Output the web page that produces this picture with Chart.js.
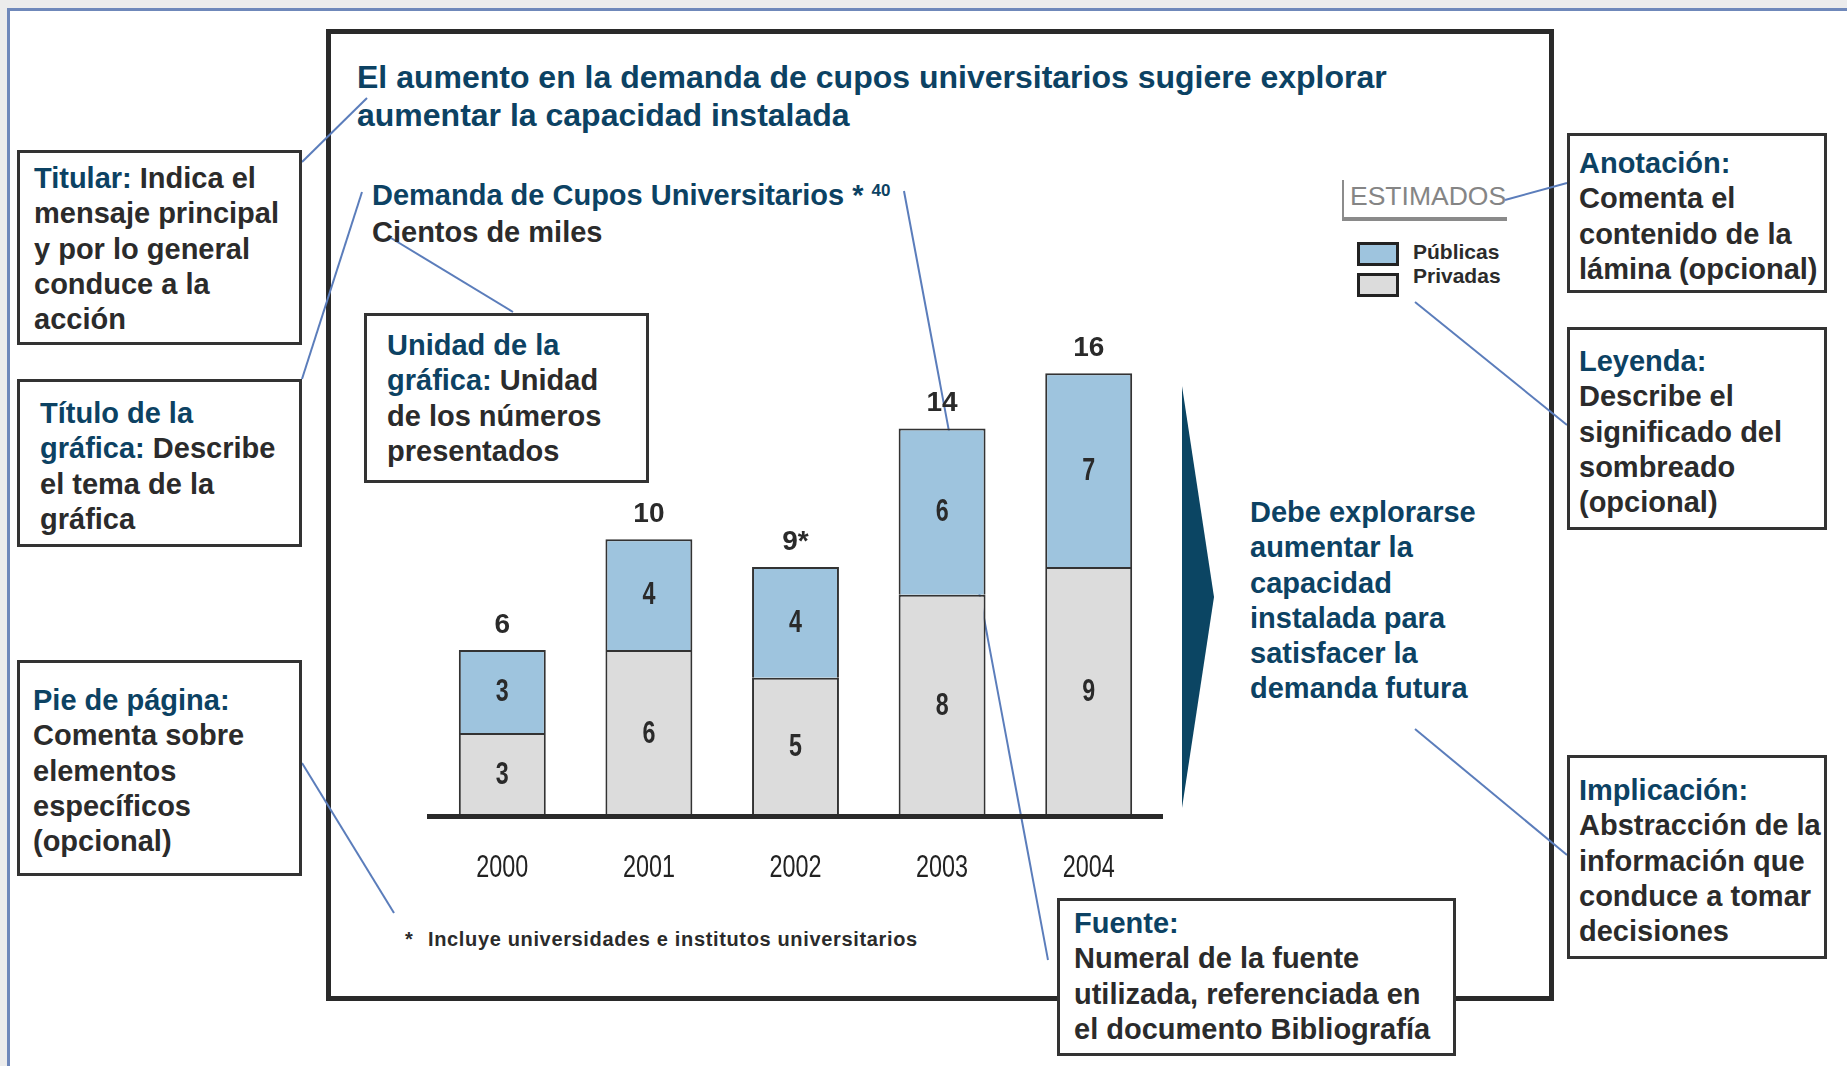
<!DOCTYPE html>
<html lang="es">
<head>
<meta charset="utf-8">
<title>Demanda de Cupos Universitarios</title>
<script src="https://cdn.jsdelivr.net/npm/chart.js@4.4.0/dist/chart.umd.min.js"></script>
<style>
  html, body { margin: 0; padding: 0; }
  body {
    width: 1847px; height: 1066px; position: relative; overflow: hidden;
    background: #ececec;
    font-family: "Liberation Sans", Arial, sans-serif; font-weight: bold; color: #2b2b2b;
  }
  .frame { position: absolute; left: 7px; top: 8px; width: 1900px; height: 1100px;
           border: 3px solid #6f88ba; background: #fff; z-index: 0; }
  .main { position: absolute; left: 326px; top: 29px; width: 1228px; height: 972px;
          box-sizing: border-box; border: 5px solid #2a2a2a; z-index: 1; }
  svg.lines { position: absolute; left: 0; top: 0; z-index: 2; }
  #chartWrap { position: absolute; left: 380px; top: 250px; width: 840px; height: 650px; z-index: 3; }
  .box { position: absolute; box-sizing: border-box; border: 3px solid #333; background: #fff; z-index: 4; }
  .txt { position: absolute; white-space: nowrap; font-size: 29px; line-height: 35.3px; z-index: 5; }
  .teal { color: #0c4263; }
  .title { font-size: 32px; line-height: 38px; }
  .sub { line-height: 33px; }
  .sup { font-size: 17px; position: relative; top: -9px; }
  .foot { font-size: 20px; line-height: 24px; letter-spacing: 0.65px; }
  .estim { font-size: 26.5px; line-height: 30px; font-weight: normal; color: #858585; }
  .bracket { position: absolute; left: 1342px; top: 180px; width: 163px; height: 37px;
             border-left: 2px solid #8c8c8c; border-bottom: 4px solid #8a8a8a; z-index: 4; }
  .lg { position: absolute; left: 1357px; width: 42px; height: 24px; box-sizing: border-box;
        border: 3px solid #222; z-index: 4; }
  .lgt { font-size: 21px; line-height: 24px; }
</style>
</head>
<body>
<div class="frame"></div>
<div class="main"></div>

<svg class="lines" width="1847" height="1066">
  <g stroke="#5b7dbb" stroke-width="2" fill="none">
    <line x1="302" y1="162" x2="367" y2="98"/>
    <line x1="302" y1="379" x2="362" y2="192"/>
    <line x1="391" y1="238" x2="513" y2="312"/>
    <line x1="904" y1="191" x2="1048" y2="960"/>
    <line x1="302" y1="763" x2="394" y2="913"/>
    <line x1="1505" y1="200" x2="1567" y2="183"/>
    <line x1="1415" y1="302" x2="1567" y2="425"/>
    <line x1="1415" y1="729" x2="1567" y2="855"/>
  </g>
  <polygon points="1182,386 1214,597 1182,808" fill="#0b4563"/>
</svg>

<div id="chartWrap"><canvas id="myChart" width="840" height="650"></canvas></div>

<!-- titulo y subtitulo -->
<div class="txt title teal" style="left:357px; top:58px;">El aumento en la demanda de cupos universitarios sugiere explorar<br>aumentar la capacidad instalada</div>
<div class="txt sub" style="left:372px; top:179px;"><span class="teal">Demanda de Cupos Universitarios * <span class="sup">40</span></span><br>Cientos de miles</div>

<!-- estimados y leyenda -->
<div class="bracket"></div>
<div class="txt estim" style="left:1350px; top:181px;">ESTIMADOS</div>
<div class="lg" style="top:242px; background:#9ec4de;"></div>
<div class="lg" style="top:273px; background:#dcdcdc;"></div>
<div class="txt lgt" style="left:1413px; top:240px;">Públicas</div>
<div class="txt lgt" style="left:1413px; top:264px;">Privadas</div>

<!-- implicacion -->
<div class="txt teal" style="left:1250px; top:495px;">Debe explorarse<br>aumentar la<br>capacidad<br>instalada para<br>satisfacer la<br>demanda futura</div>

<!-- nota al pie -->
<div class="txt foot" style="left:405px; top:927px;">*</div>
<div class="txt foot" style="left:428px; top:927px;">Incluye universidades e institutos universitarios</div>

<!-- cajas de anotacion -->
<div class="box" style="left:17px; top:150px; width:285px; height:195px;"></div>
<div class="txt" style="left:34px; top:161px;"><span class="teal">Titular:</span> Indica el<br>mensaje principal<br>y por lo general<br>conduce a la<br>acción</div>

<div class="box" style="left:17px; top:379px; width:285px; height:168px;"></div>
<div class="txt" style="left:40px; top:396px;"><span class="teal">Título de la<br>gráfica:</span> Describe<br>el tema de la<br>gráfica</div>

<div class="box" style="left:17px; top:660px; width:285px; height:216px;"></div>
<div class="txt" style="left:33px; top:683px;"><span class="teal">Pie de página:</span><br>Comenta sobre<br>elementos<br>específicos<br>(opcional)</div>

<div class="box" style="left:364px; top:313px; width:285px; height:170px;"></div>
<div class="txt" style="left:387px; top:328px;"><span class="teal">Unidad de la<br>gráfica:</span> Unidad<br>de los números<br>presentados</div>

<div class="box" style="left:1567px; top:133px; width:260px; height:160px;"></div>
<div class="txt" style="left:1579px; top:146px;"><span class="teal">Anotación:</span><br>Comenta el<br>contenido de la<br>lámina (opcional)</div>

<div class="box" style="left:1567px; top:327px; width:260px; height:203px;"></div>
<div class="txt" style="left:1579px; top:344px;"><span class="teal">Leyenda:</span><br>Describe el<br>significado del<br>sombreado<br>(opcional)</div>

<div class="box" style="left:1567px; top:755px; width:260px; height:204px;"></div>
<div class="txt" style="left:1579px; top:773px;"><span class="teal">Implicación:</span><br>Abstracción de la<br>información que<br>conduce a tomar<br>decisiones</div>

<div class="box" style="left:1057px; top:898px; width:399px; height:158px;"></div>
<div class="txt" style="left:1074px; top:906px;"><span class="teal">Fuente:</span><br>Numeral de la fuente<br>utilizada, referenciada en<br>el documento Bibliografía</div>

<script>
// datos (cientos de miles)
const years = ['2000', '2001', '2002', '2003', '2004'];
const privadas = [3, 6, 5, 8, 9];
const publicas = [3, 4, 4, 6, 7];
const totalLabels = ['6', '10', '9*', '14', '16'];

const sans = '"Liberation Sans", Arial, sans-serif';

// texto angosto (la fuente original es condensada)
function condensed(ctx, text, x, y, sx) {
  ctx.save();
  ctx.translate(x, y);
  ctx.scale(sx, 1);
  ctx.fillText(text, 0, 0);
  ctx.restore();
}

// numeros dentro de las barras, totales arriba y años abajo
const valueLabels = {
  id: 'valueLabels',
  afterDatasetsDraw(chart) {
    const ctx = chart.ctx;
    ctx.save();
    ctx.textAlign = 'center';
    ctx.textBaseline = 'middle';
    ctx.fillStyle = '#2a2a2a';
    ctx.font = 'bold 31px ' + sans;
    chart.data.datasets.forEach((ds, i) => {
      chart.getDatasetMeta(i).data.forEach((bar, j) => {
        condensed(ctx, String(ds.data[j]), bar.x, (bar.y + bar.base) / 2 + 1, 0.75);
      });
    });
    const last = chart.getDatasetMeta(chart.data.datasets.length - 1).data;
    ctx.font = 'bold 28px ' + sans;
    last.forEach((bar, j) => {
      ctx.fillText(totalLabels[j], bar.x, bar.y - 25);
    });
    // etiquetas del eje x
    const xs = chart.scales.x;
    ctx.font = '32px ' + sans;
    ctx.fillStyle = '#222222';
    chart.data.labels.forEach((lab, i) => {
      condensed(ctx, lab, xs.getPixelForTick(i), xs.top + 52, 0.73);
    });
    ctx.restore();
  }
};

const data = {
  labels: years,
  datasets: [
    {
      label: 'Privadas',
      data: privadas,
      backgroundColor: '#dcdcdc',
      borderColor: '#333333',
      borderWidth: 2
    },
    {
      label: 'Públicas',
      data: publicas,
      backgroundColor: '#9ec4de',
      borderColor: '#333333',
      borderWidth: 2
    }
  ]
};

const config = {
  type: 'bar',
  data: data,
  options: {
    responsive: false,
    devicePixelRatio: 1,
    animation: false,
    layout: { padding: { left: 49, right: 58, top: 12.6, bottom: 0 } },
    datasets: { bar: { categoryPercentage: 1, barPercentage: 0.593 } },
    plugins: { legend: { display: false }, tooltip: { enabled: false } },
    scales: {
      x: {
        stacked: true,
        grid: { display: false },
        border: { display: true, width: 5, color: '#2a2a2a', z: 1 },
        ticks: { display: false },
        afterFit(scale) { scale.height = 84; }
      },
      y: {
        stacked: true,
        display: false,
        min: 0,
        max: 20
      }
    }
  },
  plugins: [valueLabels]
};

const myChart = new Chart(document.getElementById('myChart'), config);
</script>
</body>
</html>
